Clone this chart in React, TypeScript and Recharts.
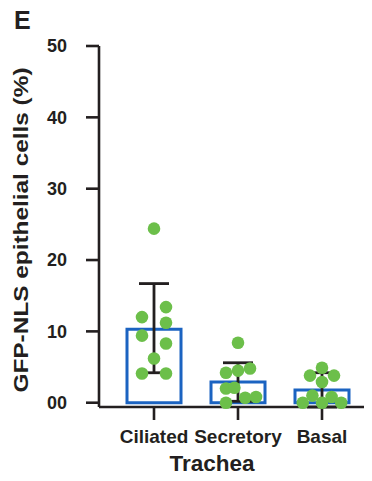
import React from 'react';
import { ComposedChart, Bar, Scatter, XAxis, YAxis, ErrorBar } from 'recharts';

// categories and summary values
const categories = ['Ciliated', 'Secretory', 'Basal'];
const means = [10.3, 2.9, 1.8];
const errLow = [6.1, 2.7, 2.4];
const errHigh = [6.4, 2.7, 2.4];
const yTicks = [0, 10, 20, 30, 40, 50];

// individual measurements per group
const ciliatedPoints = [24.4, 13.4, 12.0, 11.2, 9.4, 8.3, 6.2, 4.1, 4.1];
const secretoryPoints = [8.4, 4.2, 4.5, 4.8, 2.0, 2.1, 0.0, 0.7, 0.8];
const basalPoints = [4.9, 3.8, 3.8, 2.9, 0.0, 1.0, 0.0, 0.8, 0.0];

// column slot of each dot inside its group (-1 left, 0 centre, 1 right)
const ciliatedCols = [0, 1, -1, 1, -1, 1, 0, -1, 1];
const secretoryCols = [0, -1, 0, 1, -1, -0.3, -1, 0.6, 1.5];
const basalCols = [0, -1, 1, 0, -1.6, -0.8, 0, 0.8, 1.6];

const INK = '#231f20';
const BLUE = '#1b63c1';
const GREEN = '#6cbf4a';
const FONT = '"Liberation Sans", Arial, Helvetica, sans-serif';
const JITTER = 0.143;

const barData = categories.map((name, i) => ({
  name,
  mean: means[i],
  err: [errLow[i], errHigh[i]],
}));

const groups = [
  { values: ciliatedPoints, cols: ciliatedCols },
  { values: secretoryPoints, cols: secretoryCols },
  { values: basalPoints, cols: basalCols },
];

const pointData = groups.flatMap((g, gi) =>
  g.values.map((v, j) => ({ x: gi + g.cols[j] * JITTER, y: v }))
);

const Dot = (props: any) => {
  const { cx, cy } = props;
  if (cx == null || cy == null) return null;
  return <circle cx={cx} cy={cy} r={6.3} fill={GREEN} />;
};

const App: React.FC = () => {
  return (
    <div style={{ position: 'absolute', left: 0, top: 0, width: 372, height: 481, background: '#fff' }}>
      <ComposedChart
        width={372}
        height={481}
        data={barData}
        margin={{ top: 46, right: 8, bottom: 0, left: 0 }}
      >
        <XAxis
          dataKey="name"
          xAxisId="cat"
          padding={{ left: 13, right: 0 }}
          stroke={INK}
          strokeWidth={2.6}
          tickSize={13}
          tickMargin={10}
          height={74}
          tick={{ fill: INK, fontSize: 19, fontWeight: 700, fontFamily: FONT }}
          tickLine={{ stroke: INK, strokeWidth: 2.6 }}
        />
        <XAxis
          xAxisId="pts"
          type="number"
          dataKey="x"
          domain={[-0.5, 2.5]}
          padding={{ left: 13, right: 0 }}
          hide
        />
        <YAxis
          type="number"
          domain={[0, 50]}
          ticks={yTicks}
          interval={0}
          width={99}
          stroke={INK}
          strokeWidth={2.6}
          tickSize={13}
          tickMargin={19}
          tickFormatter={(v: number) => (v === 0 ? '00' : String(v))}
          tick={{ fill: INK, fontSize: 18, fontWeight: 700, fontFamily: FONT }}
          tickLine={{ stroke: INK, strokeWidth: 2.6 }}
        />
        <Bar
          xAxisId="cat"
          dataKey="mean"
          barSize={54}
          fill="#ffffff"
          stroke={BLUE}
          strokeWidth={3}
          isAnimationActive={false}
        >
          <ErrorBar dataKey="err" width={15} stroke={INK} strokeWidth={2.8} direction="y" />
        </Bar>
        <Scatter
          xAxisId="pts"
          data={pointData}
          dataKey="y"
          shape={<Dot />}
          isAnimationActive={false}
        />
      </ComposedChart>
      <svg
        width={372}
        height={481}
        style={{ position: 'absolute', left: 0, top: 0, pointerEvents: 'none' }}
      >
        <text x={14} y={29} fontSize={25} fontWeight={700} fontFamily={FONT} fill={INK}>
          E
        </text>
        <text
          transform="translate(28,230) rotate(-90)"
          textAnchor="middle"
          fontSize={20}
          fontWeight={700}
          fontFamily={FONT}
          fill={INK}
          textLength={325}
          lengthAdjust="spacingAndGlyphs"
        >
          GFP-NLS epithelial cells (%)
        </text>
        <text
          x={212}
          y={471}
          textAnchor="middle"
          fontSize={22.5}
          fontWeight={700}
          fontFamily={FONT}
          fill={INK}
        >
          Trachea
        </text>
      </svg>
    </div>
  );
};

export default App;
